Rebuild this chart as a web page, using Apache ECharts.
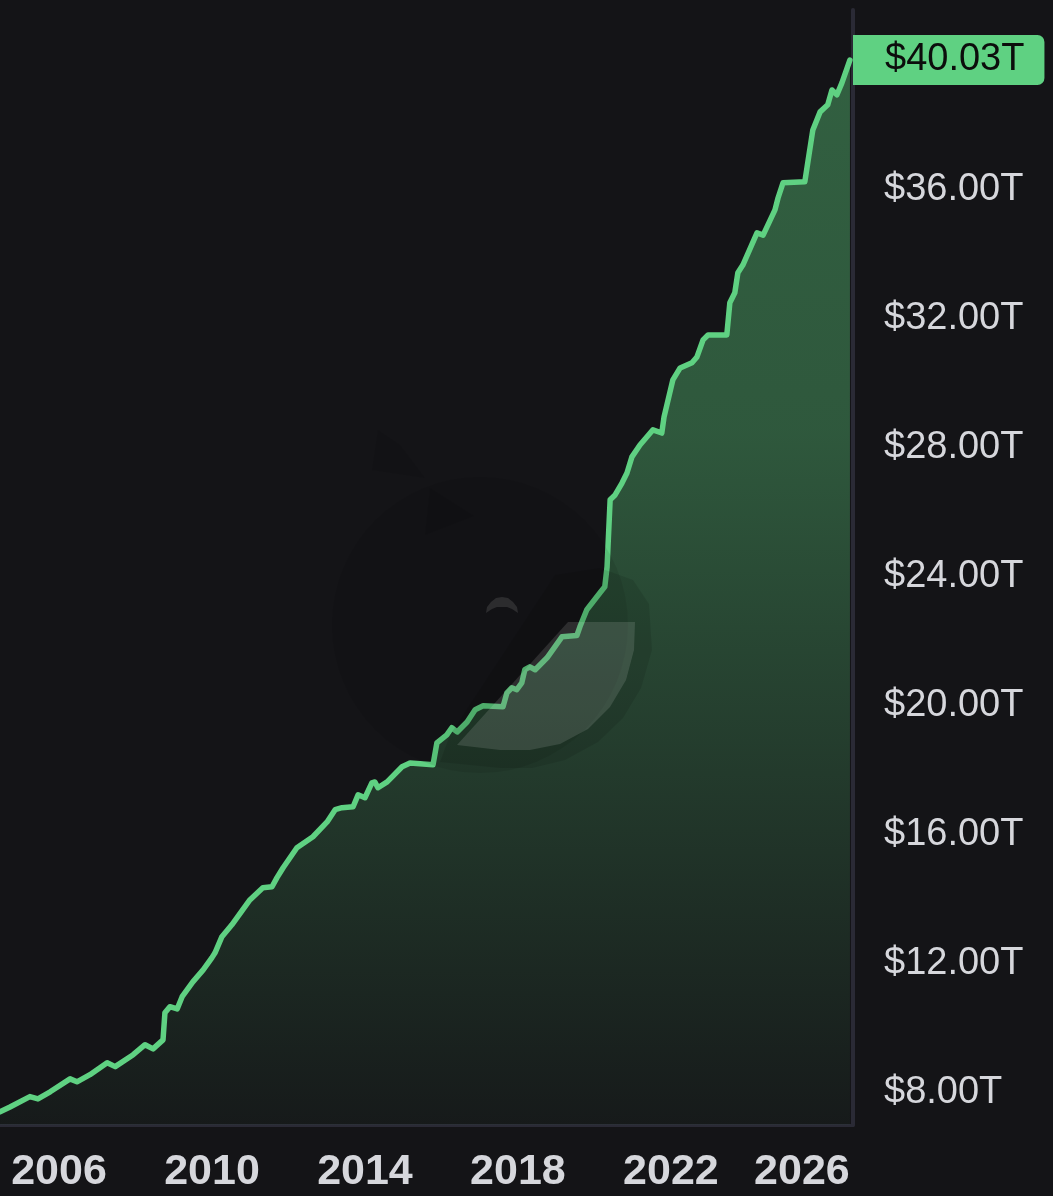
<!DOCTYPE html>
<html><head><meta charset="utf-8">
<script src="https://cdn.jsdelivr.net/npm/echarts@6/dist/echarts.min.js"></script>
<style>html,body{margin:0;padding:0;background:#141417;}#c{width:1053px;height:1196px;}</style>
</head><body><div id="c"></div>
<script>
// Decimal years and US debt values (trillions of $)
const years = [2004.46,2004.72,2005.24,2005.45,2005.77,2006.29,2006.47,2006.81,2007.26,2007.47,2007.94,2008.25,2008.46,2008.72,2008.77,2008.90,2009.09,2009.22,2009.50,2009.77,2010.00,2010.08,2010.26,2010.52,2010.99,2011.33,2011.57,2011.70,2011.86,2012.22,2012.64,2013.01,2013.22,2013.40,2013.69,2013.82,2014.00,2014.18,2014.26,2014.34,2014.58,2014.97,2015.18,2015.78,2015.88,2016.14,2016.27,2016.41,2016.67,2016.88,2017.09,2017.61,2017.71,2017.84,2017.97,2018.10,2018.18,2018.31,2018.45,2018.76,2019.15,2019.54,2019.62,2019.80,2020.14,2020.27,2020.33,2020.41,2020.54,2020.72,2020.85,2020.98,2021.19,2021.53,2021.76,2021.82,2022.05,2022.24,2022.55,2022.68,2022.84,2022.97,2023.46,2023.54,2023.67,2023.75,2023.88,2024.25,2024.41,2024.72,2024.80,2024.93,2025.50,2025.56,2025.71,2025.90,2026.10,2026.21,2026.34,2026.47,2026.68];
const debt = [7.41,7.56,7.88,7.81,8.03,8.43,8.34,8.56,8.93,8.81,9.18,9.49,9.36,9.64,10.48,10.67,10.60,10.98,11.44,11.81,12.19,12.34,12.84,13.21,13.98,14.36,14.39,14.67,14.98,15.60,15.94,16.40,16.78,16.84,16.87,17.24,17.15,17.61,17.64,17.46,17.64,18.11,18.23,18.17,18.85,19.10,19.32,19.19,19.50,19.88,20.00,19.97,20.40,20.56,20.50,20.71,21.12,21.21,21.12,21.49,22.14,22.18,22.45,22.98,23.50,23.69,24.31,26.39,26.54,26.91,27.22,27.72,28.09,28.56,28.46,28.96,30.11,30.48,30.64,30.82,31.35,31.50,31.50,32.50,32.81,33.43,33.67,34.67,34.60,35.38,35.75,36.22,36.25,36.71,37.86,38.42,38.64,39.10,38.95,39.32,40.03];
const xTickYears = [2006, 2010, 2014, 2018, 2022, 2026];
const yTickValues = [8, 12, 16, 20, 24, 28, 32, 36];
const lastValue = 40.03;

const GREEN = '#5fd182';
const AXIS = '#2a2a35';
const TXT = '#d6d7dc';
const X_MIN = 2004.458, X_MAX = 2026.76, Y_MIN = 7.0, Y_MAX = 41.58;

const chart = echarts.init(document.getElementById('c'), null, {renderer: 'canvas'});
const fmtT = v => '$' + v.toFixed(2) + 'T';

chart.setOption({
  backgroundColor: '#141417',
  animation: false,
  grid: {left: 0, right: 200, top: 10, bottom: 71, containLabel: false},
  xAxis: {
    type: 'value', min: X_MIN, max: X_MAX,
    axisLine: {show: true, onZero: false, lineStyle: {color: AXIS, width: 3}},
    axisTick: {show: false},
    splitLine: {show: false},
    axisLabel: {
      customValues: xTickYears,
      margin: 24,
      formatter: v => (Math.round(v) === 2026 ? '{s|' : '{n|') + Math.round(v) + '}',
      rich: {
        n: {fontSize: 43, fontWeight: 'bold', color: TXT, fontFamily: 'Liberation Sans', lineHeight: 46},
        s: {fontSize: 43, fontWeight: 'bold', color: TXT, fontFamily: 'Liberation Sans', lineHeight: 46, padding: [0, 44, 0, 0]}
      }
    }
  },
  yAxis: [{
    type: 'value', position: 'right', min: Y_MIN, max: Y_MAX,
    axisLine: {show: true, lineStyle: {color: AXIS, width: 4}},
    axisTick: {show: false},
    splitLine: {show: false},
    axisLabel: {
      customValues: yTickValues,
      margin: 31, align: 'left',
      color: TXT, fontSize: 38, fontFamily: 'Liberation Sans',
      formatter: v => fmtT(v)
    }
  }, {
    type: 'value', position: 'right', min: Y_MIN, max: Y_MAX,
    axisLine: {show: false}, axisTick: {show: false}, splitLine: {show: false},
    axisLabel: {
      customValues: [lastValue],
      margin: 0, align: 'left',
      formatter: v => '{hl|' + fmtT(v) + '}',
      rich: {
        hl: {backgroundColor: GREEN, color: '#0c0d0c', fontSize: 38, fontFamily: 'Liberation Sans',
             lineHeight: 38, padding: [6, 20, 6, 32], borderRadius: [0, 7, 7, 0]}
      }
    }
  }],
  graphic: [
    {type: 'circle', z: 100, silent: true, shape: {cx: 480, cy: 625, r: 148}, style: {fill: 'rgba(0,0,0,0.08)'}},
    {type: 'polygon', z: 100, silent: true, shape: {points: [[372,470],[378,430],[400,445],[425,478]]}, style: {fill: 'rgba(0,0,0,0.07)'}},
    {type: 'polygon', z: 100, silent: true, shape: {points: [[430,488],[474,516],[425,535]]}, style: {fill: 'rgba(0,0,0,0.07)'}},
    {type: 'polygon', z: 100, silent: true, shape: {points: [[555,575],[600,568],[633,580],[649,604],[652,650],[641,688],[623,718],[598,742],[565,760],[532,768],[500,768],[440,762],[450,735]]}, style: {fill: 'rgba(0,0,0,0.10)'}},
    {type: 'polygon', z: 101, silent: true, shape: {points: [[568,622],[635,622],[634,650],[626,680],[610,707],[588,729],[560,744],[530,750],[500,750],[457,745]]}, style: {fill: 'rgba(255,255,255,0.12)'}},
    {type: 'polygon', z: 101, silent: true, shape: {points: [[486,613],[487,607],[491,602],[496,598],[502,597],[508,598],[513,602],[517,607],[518,613],[512,609],[507,607],[502,607],[497,607],[492,609]]}, style: {fill: 'rgba(255,255,255,0.11)'}}
  ],
  series: [{
    type: 'line',
    data: years.map((y, i) => [y, debt[i]]),
    showSymbol: false,
    smooth: false,
    clip: true,
    lineStyle: {color: GREEN, width: 5.5, cap: 'round', join: 'round'},
    areaStyle: {
      opacity: 1,
      color: {type: 'linear', x: 0, y: 0, x2: 0, y2: 1, colorStops: [
        {offset: 0, color: 'rgba(94,209,127,0.40)'},
        {offset: 0.35, color: 'rgba(94,209,127,0.36)'},
        {offset: 0.65, color: 'rgba(94,209,127,0.21)'},
        {offset: 1, color: 'rgba(94,209,127,0.03)'}
      ]}
    }
  }]
});
</script>
</body></html>
